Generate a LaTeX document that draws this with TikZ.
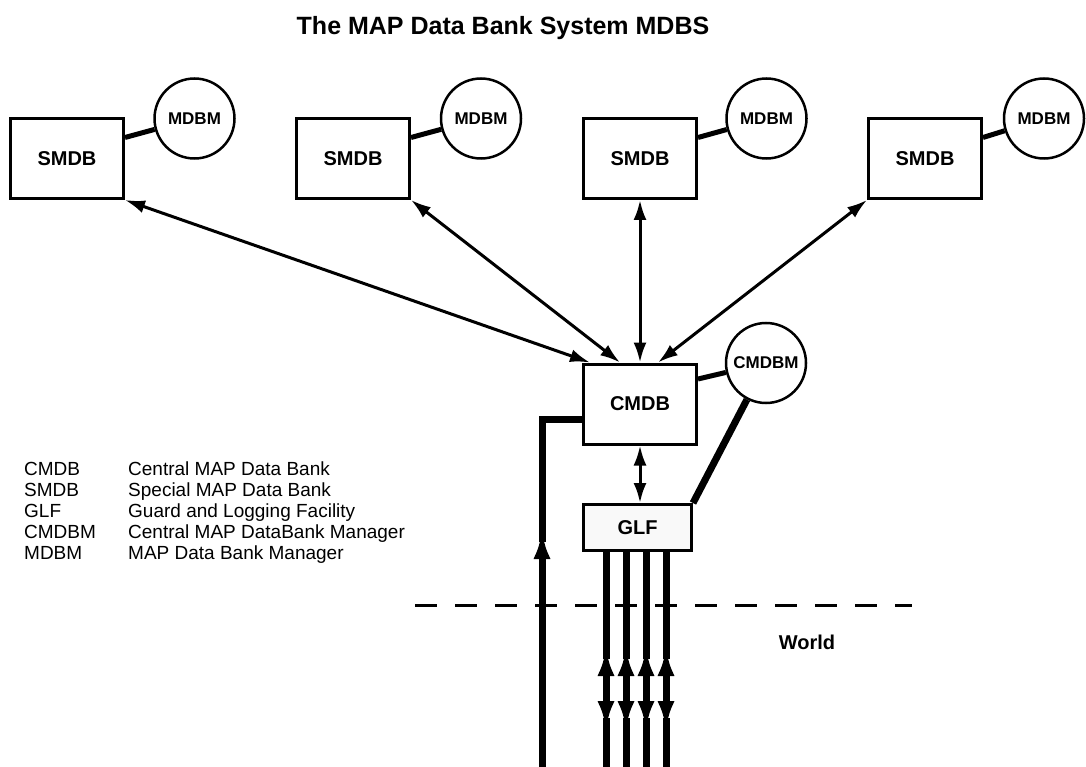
\documentclass[tikz,border=0pt]{standalone}
\usepackage{fontspec}
\setmainfont{Liberation Sans}
\usetikzlibrary{arrows.meta}

\begin{document}
\begin{tikzpicture}[x=1pt, y=-1pt,
    dbbox/.style={draw, line width=3pt, minimum width=113pt, minimum height=80pt, font=\fontsize{20}{24}\selectfont\bfseries},
    mgr/.style={draw, circle, line width=2.5pt, minimum size=80pt, inner sep=0pt, font=\fontsize{17}{20}\selectfont\bfseries},
    tie/.style={line width=5pt},
    fat/.style={line width=7pt},
    smalltip/.tip={Latex[length=20pt, width=13pt]},
    bigtip/.tip={Latex[length=29pt, width=17pt]},
    biarrow/.style={line width=3pt, smalltip-smalltip},
    legend/.style={font=\fontsize{19}{21}\selectfont, inner sep=0pt, anchor=base west}]
        \useasboundingbox (0, 0) rectangle (1086, 767);
        \node[font=\fontsize{25}{30}\selectfont\bfseries, anchor=base] (title) at (503, 35) {The MAP Data Bank System MDBS};
        % special data banks with their managers
        \node[dbbox] (s1) at (67, 158.5) {SMDB};
        \node[dbbox] (s2) at (353, 158.5) {SMDB};
        \node[dbbox] (s3) at (640, 158.5) {SMDB};
        \node[dbbox] (s4) at (925, 158.5) {SMDB};
        \node[mgr] (m1) at (194.5, 118.5) {MDBM};
        \node[mgr] (m2) at (481, 118.5) {MDBM};
        \node[mgr] (m3) at (766.5, 118.5) {MDBM};
        \node[mgr] (m4) at (1044, 118.5) {MDBM};
        \foreach \i in {1,...,4}
            \draw[tie] ([yshift=21pt]s\i.east) -- (m\i);
        % central part
        \node[dbbox] (cmdb) at (640, 404) {CMDB};
        \node[mgr] (cmgr) at (766, 363) {CMDBM};
        \node[dbbox, fill=gray!5, minimum width=108pt, minimum height=46pt] (glf) at (637.5, 527.5) {GLF};
        \draw[biarrow] (s1.south east) -- ([xshift=-50pt]cmdb.north);
        \draw[biarrow] (s2.south east) -- ([xshift=-20pt]cmdb.north);
        \draw[biarrow] (s3.south) -- (cmdb.north);
        \draw[biarrow] (s4.south west) -- ([xshift=18pt]cmdb.north);
        \draw[biarrow] (cmdb.south) -- (cmdb.south |- glf.north);
        \draw[tie] ([yshift=25pt]cmdb.east) -- (cmgr);
        \draw[line width=7pt] (glf.north east) -- (cmgr);
        % border to the world
        \coordinate (wl) at (415, 605);
        \coordinate (wr) at (912, 605);
        \draw[line width=3pt, dash pattern=on 22pt off 18pt] (wl) -- (wr);
        \node[font=\fontsize{20}{24}\selectfont\bfseries] (world) at (807, 642) {World};
        % input line
        \coordinate (intip) at (542, 530);
        \coordinate (inend) at (542, 767);
        \draw[fat] ([yshift=-15pt]cmdb.west) -| ([yshift=-12pt]intip);
        \draw[fat, -bigtip] (inend) -- (intip);
        % lines through the guard
        \foreach \x [count=\i] in {606, 626, 646, 666} {
            \coordinate (hi\i) at (\x, 647);
            \coordinate (lo\i) at (\x, 730);
            \coordinate (ft\i) at (\x, 767);
            \draw[fat] (glf.south -| hi\i) -- ([yshift=-12pt]hi\i);
            \draw[fat, bigtip-bigtip] (hi\i) -- (lo\i);
            \draw[fat] ([yshift=12pt]lo\i) -- (ft\i);
        }
        % legend
        \foreach \k/\t [count=\i] in {CMDB/Central MAP Data Bank, SMDB/Special MAP Data Bank, GLF/Guard and Logging Facility, CMDBM/Central MAP DataBank Manager, MDBM/MAP Data Bank Manager} {
            \node[legend] (key\i) at (24, 454+21*\i) {\k};
            \node[legend] (txt\i) at (128, 454+21*\i) {\t};
        }
    \end{tikzpicture}
\end{document}
